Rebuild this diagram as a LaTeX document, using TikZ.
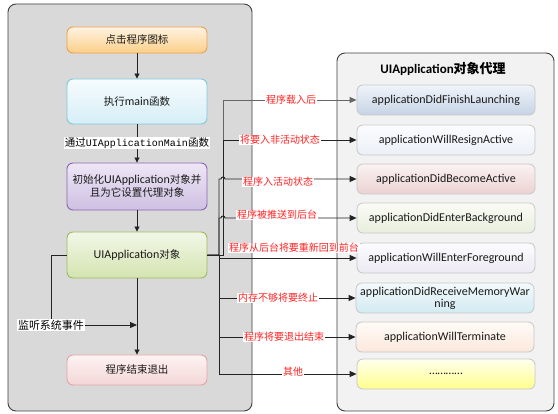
\documentclass[tikz,border=0pt]{standalone}
\usepackage{fontspec}
\setmainfont{Carlito}
\newfontfamily\cjk{Noto Sans CJK SC}
\newfontfamily\monof{Liberation Mono}
\usetikzlibrary{arrows.meta}
\newcommand\zh[1]{{\cjk\fontsize{10.5}{13}\selectfont #1}}
\definecolor{redtxt}{RGB}{255,35,35}
\definecolor{linec}{RGB}{35,35,35}
\begin{document}
\begin{tikzpicture}[x=1pt,y=-1pt,
 panel/.style={draw=black!75, line width=0.9pt, rounded corners=8pt},
 lbox/.style={rounded corners=6pt, line width=0.9pt, minimum width=140pt, font=\fontsize{12}{14}\selectfont, align=center, inner sep=2pt, text=black!90},
 rbox/.style={rounded corners=6pt, draw=black!22, line width=0.8pt, minimum width=178pt, minimum height=30pt, font=\fontsize{12}{14}\selectfont, align=center, inner sep=1pt, text=black!90},
 conn/.style={draw=linec, line width=0.9pt},
 arr/.style={conn, -{Triangle[length=7pt,width=6pt]}},
 sarr/.style={conn, -{Triangle[length=5pt,width=5pt]}},
 redlab/.style={text=redtxt, fill=white, inner sep=0.6pt, font=\cjk\fontsize{10}{12}\selectfont},
 blklab/.style={text=black, fill=white, inner sep=0.8pt}
]
\useasboundingbox (0,0) rectangle (558,414);
\fill[white] (0,0) rectangle (558,414);
% panels
\draw[panel, fill=black!15] (8,4) rectangle (252,411);
\draw[panel, fill=black!5] (337,53) rectangle (554,411);
\node (title) at (443,69) {\fontsize{13}{15}\selectfont\textbf{UIApplication}{\cjk\bfseries 对象代理}};

% left nodes
\node[lbox, minimum height=26pt, top color={rgb,255:red,254;green,243;blue,226}, bottom color={rgb,255:red,252;green,207;blue,136}, draw={rgb,255:red,238;green,160;blue,74}] (click) at (137,40) {\zh{点击程序图标}};
\node[lbox, minimum height=45pt, top color={rgb,255:red,246;green,252;blue,254}, bottom color={rgb,255:red,214;green,238;blue,246}, draw={rgb,255:red,126;green,200;blue,220}] (main) at (137,101.5) {\zh{执行}main\zh{函数}};
\node[lbox, minimum height=47pt, top color={rgb,255:red,238;green,230;blue,246}, bottom color={rgb,255:red,206;green,192;blue,226}, draw={rgb,255:red,140;green,100;blue,180}] (init) at (137,186.5) {\zh{初始化}UIApplication\zh{对象并}\\[-1pt]\zh{且为它设置代理对象}};
\node[lbox, minimum height=46pt, top color={rgb,255:red,242;green,247;blue,232}, bottom color={rgb,255:red,212;green,228;blue,176}, draw={rgb,255:red,156;green,187;blue,92}] (app) at (137,255) {UIApplication\zh{对象}};
\node[lbox, minimum height=30pt, top color={rgb,255:red,253;green,243;blue,243}, bottom color={rgb,255:red,244;green,214;blue,214}, draw={rgb,255:red,224;green,166;blue,166}] (quit) at (137,370) {\zh{程序结束退出}};

% right nodes
\node[rbox, top color={rgb,255:red,240;green,244;blue,250}, bottom color={rgb,255:red,198;green,211;blue,229}] (r1) at (446,100) {applicationDidFinishLaunching};
\node[rbox, top color={rgb,255:red,251;green,252;blue,254}, bottom color={rgb,255:red,236;green,240;blue,247}] (r2) at (446,140) {applicationWillResignActive};
\node[rbox, top color={rgb,255:red,251;green,242;blue,242}, bottom color={rgb,255:red,236;green,210;blue,210}] (r3) at (446,179) {applicationDidBecomeActive};
\node[rbox, top color={rgb,255:red,250;green,251;blue,246}, bottom color={rgb,255:red,232;green,238;blue,220}] (r4) at (446,218) {applicationDidEnterBackground};
\node[rbox, top color={rgb,255:red,252;green,252;blue,254}, bottom color={rgb,255:red,236;green,233;blue,243}] (r5) at (446,258) {applicationWillEnterForeground};
\node[rbox, top color={rgb,255:red,244;green,250;blue,252}, bottom color={rgb,255:red,210;green,234;blue,242}] (r6) at (445,298) {applicationDidReceiveMemoryWar\\[-2pt]ning};
\node[rbox, top color={rgb,255:red,255;green,251;blue,247}, bottom color={rgb,255:red,251;green,232;blue,220}] (r7) at (445,337) {applicationWillTerminate};
\node[rbox, top color={rgb,255:red,255;green,255;blue,238}, bottom color={rgb,255:red,255;green,255;blue,140}] (r8) at (446,374) {…………};

% main flow
\draw[sarr] (click) -- (main);
\draw[sarr] (main) -- (init);
\node[blklab] (via) at (137,143) {\zh{通过}{\monof\fontsize{10}{12}\selectfont UIApplicationMain}\zh{函数}};
\draw[sarr] (init) -- (app);
\draw[sarr] (app) -- (quit);

% system events
\node[blklab] (listen) at (51,325) {{\cjk\fontsize{11}{13}\selectfont 监听系统事件}};
\coordinate (join) at (137,325);
\draw[conn] (app.west) -| (listen.north);
\draw[arr] (listen.east) -- (join);

% delegate connectors
\draw[arr, draw=black!60] (app.east) -- (223,255) |- (r1.west);
\draw[arr] (app.east) -- (223,255) |- (r2.west);
\draw[arr] (app.east) -- (219,255) -- (219,179) -- (221,179) arc[start angle=180,end angle=0,radius=2pt] -- (r3.west);
\draw[arr] (app.east) -- (219,255) -- (219,218) -- (221,218) arc[start angle=180,end angle=0,radius=2pt] -- (r4.west);
\draw[arr] (app.east) -- (219,255) |- (r5.west);
\draw[arr] (app.east) -- (219,255) |- (r6.west);
\draw[arr] (app.east) -- (219,255) |- (r7.west);
\draw[arr] (app.east) -- (219,255) |- (r8.west);

% labels
\node[redlab] (l1) at (291,100) {程序载入后};
\node[redlab] (l2) at (280,140) {将要入非活动状态};
\node[redlab] (l3) at (278,182) {程序入活动状态};
\node[redlab] (l4) at (277,215) {程序被推送到后台};
\node[redlab] (l5) at (294,248) {程序从后台将要重新回到前台};
\node[redlab] (l6) at (278,298) {内存不够将要终止};
\node[redlab] (l7) at (284,337) {程序将要退出结束};
\node[redlab] (l8) at (293,372) {其他};
\end{tikzpicture}
\end{document}
